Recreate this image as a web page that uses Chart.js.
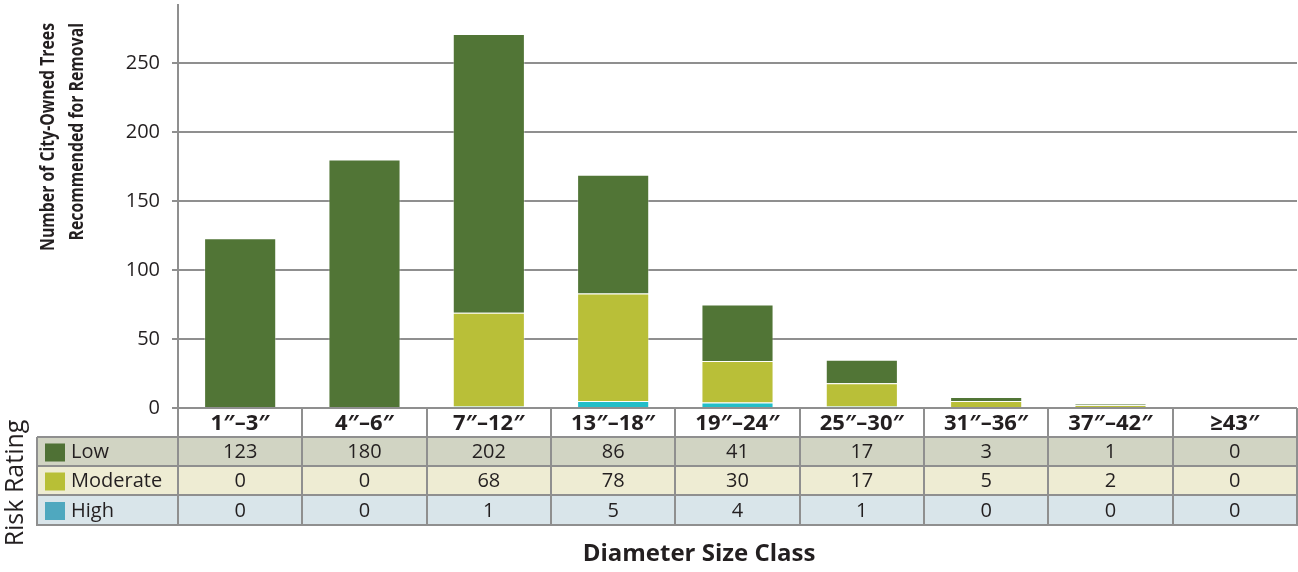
<!DOCTYPE html>
<html>
<head>
<meta charset="utf-8">
<script src="https://cdn.jsdelivr.net/npm/chart.js@4.4.1/dist/chart.umd.min.js"></script>
<style>
  html, body { margin: 0; padding: 0; background: #fff; }
</style>
</head>
<body>
<canvas id="chart" width="1298" height="572"></canvas>
<script>
const sizeClasses = ["1″–3″", "4″–6″", "7″–12″", "13″–18″", "19″–24″", "25″–30″", "31″–36″", "37″–42″", "≥43″"];
const lowRisk = [123, 180, 202, 86, 41, 17, 3, 1, 0];
const moderateRisk = [0, 0, 68, 78, 30, 17, 5, 2, 0];
const highRisk = [0, 0, 1, 5, 4, 1, 0, 0, 0];
const yTicks = [0, 50, 100, 150, 200, 250];
const yTitle = ["Number of City-Owned Trees", "Recommended for Removal"];

const FONT = "'Open Sans'";
const TEXT = "#231f20";
const LINE = "#8f8f8f";
const EDGE = "rgba(255, 255, 255, 0.35)";

// table rows, top to bottom
const tableRows = [
  { name: "Low", values: lowRisk, swatch: "#4f7135", bg: "#d1d4c3" },
  { name: "Moderate", values: moderateRisk, swatch: "#b8bf36", bg: "#eeecd3" },
  { name: "High", values: highRisk, swatch: "#4fa8bf", bg: "#d9e5ea" },
];

const dataTable = {
  id: "dataTable",
  afterDraw(chart) {
    const { ctx, chartArea, scales } = chart;
    const x = scales.x;
    const colW = (chartArea.right - chartArea.left) / sizeClasses.length;
    const tableLeft = 37;
    const headTop = chartArea.bottom;
    const rowTops = [437, 466, 495, 525];

    ctx.save();
    // row backgrounds
    tableRows.forEach((row, r) => {
      ctx.fillStyle = row.bg;
      ctx.fillRect(tableLeft, rowTops[r], chartArea.right - tableLeft, rowTops[r + 1] - rowTops[r]);
    });

    // grid lines
    ctx.strokeStyle = LINE;
    ctx.lineWidth = 2;
    ctx.beginPath();
    rowTops.forEach((y) => {
      ctx.moveTo(tableLeft, y);
      ctx.lineTo(chartArea.right, y);
    });
    ctx.moveTo(tableLeft, rowTops[0]);
    ctx.lineTo(tableLeft, rowTops[3] + 1);
    for (let i = 0; i <= sizeClasses.length; i++) {
      const px = Math.round(chartArea.left + i * colW);
      ctx.moveTo(px, headTop);
      ctx.lineTo(px, rowTops[3] + 1);
    }
    ctx.stroke();

    // row labels + values
    ctx.textBaseline = "middle";
    tableRows.forEach((row, r) => {
      const cy = (rowTops[r] + rowTops[r + 1]) / 2 + 1;
      ctx.fillStyle = row.swatch;
      ctx.fillRect(45, cy - 9, 20, 18);
      ctx.fillStyle = TEXT;
      ctx.font = "20px " + FONT;
      ctx.textAlign = "left";
      ctx.fillText(row.name, 71, cy);
      ctx.textAlign = "center";
      row.values.forEach((v, i) => {
        ctx.fillText(String(v), x.getPixelForTick(i), cy);
      });
    });

    // axis titles (y title is set a bit condensed, like the original)
    ctx.fillStyle = TEXT;
    ctx.font = "bold 20px " + FONT;
    ctx.save();
    ctx.translate(48, 23);
    ctx.rotate(-Math.PI / 2);
    ctx.scale(0.79, 1);
    ctx.textAlign = "right";
    yTitle.forEach((line, i) => ctx.fillText(line, 0, i * 29));
    ctx.restore();

    ctx.font = "25px " + FONT;
    ctx.save();
    ctx.translate(16, 483);
    ctx.rotate(-Math.PI / 2);
    ctx.textAlign = "center";
    ctx.fillText("Risk Rating", 0, 0);
    ctx.restore();

    ctx.font = "bold 24px " + FONT;
    ctx.textAlign = "center";
    ctx.fillText("Diameter Size Class", 699, 554);
    ctx.restore();
  },
};

new Chart(document.getElementById("chart"), {
  type: "bar",
  data: {
    labels: sizeClasses,
    datasets: [
      { label: "High", data: highRisk, backgroundColor: "#22bec8", borderColor: EDGE, borderWidth: 1 },
      { label: "Moderate", data: moderateRisk, backgroundColor: "#b9bf38", borderColor: EDGE, borderWidth: 1 },
      { label: "Low", data: lowRisk, backgroundColor: "#517536", borderColor: EDGE, borderWidth: 1 },
    ],
  },
  options: {
    responsive: false,
    animation: false,
    devicePixelRatio: 1,
    categoryPercentage: 1,
    barPercentage: 0.58,
    layout: { padding: { top: 5, right: 1, left: 0, bottom: 0 } },
    plugins: {
      legend: { display: false },
      tooltip: { enabled: false },
    },
    scales: {
      x: {
        stacked: true,
        grid: { display: false, drawTicks: false },
        border: { display: false },
        ticks: {
          color: TEXT,
          font: { family: FONT, size: 22, weight: "bold" },
          padding: 3,
          maxRotation: 0,
          autoSkip: false,
        },
        afterFit: (scale) => {
          scale.height = 164;
        },
      },
      y: {
        stacked: true,
        min: 0,
        max: 292,
        afterBuildTicks: (scale) => {
          scale.ticks = yTicks.map((v) => ({ value: v }));
        },
        grid: { color: LINE, lineWidth: 2, tickLength: 6 },
        border: { color: LINE, width: 2 },
        ticks: {
          color: TEXT,
          font: { family: FONT, size: 20 },
          padding: 12,
        },
        afterFit: (scale) => {
          scale.width = 178;
          scale.paddingTop = 0;
        },
      },
    },
  },
  plugins: [dataTable],
});
</script>
</body>
</html>
